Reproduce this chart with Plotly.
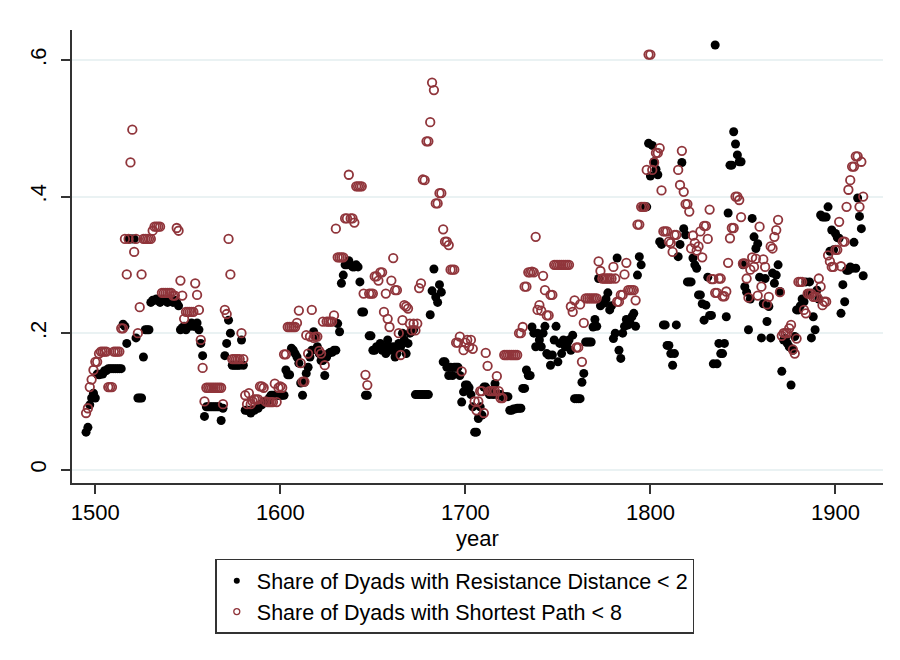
import plotly.graph_objects as go

years = list(range(1495, 1916))

# Share of Dyads with Resistance Distance < 2
resistance = [
    0.055, 0.062, 0.095, 0.105, 0.112,
    0.105, 0.14, 0.139, 0.14, 0.14, 0.145, 0.145, 0.148, 0.148, 0.148,
    0.148, 0.148, 0.148, 0.148, 0.148, 0.213, 0.21, 0.185, 0.338, 0.338,
    0.338, 0.338, 0.193, 0.105, 0.105, 0.105, 0.165, 0.205, 0.205, 0.205,
    0.245, 0.248, 0.248, 0.25, 0.248, 0.245, 0.248, 0.25, 0.248, 0.245,
    0.248, 0.25, 0.245, 0.248, 0.245, 0.24, 0.205, 0.208, 0.21, 0.205,
    0.21, 0.21, 0.215, 0.21, 0.21, 0.215, 0.205, 0.185, 0.167, 0.078,
    0.092, 0.092, 0.092, 0.092, 0.092, 0.092, 0.092, 0.092, 0.072, 0.09,
    0.167, 0.185, 0.219, 0.2, 0.153, 0.153, 0.153, 0.153, 0.153, 0.19,
    0.153, 0.087, 0.087, 0.087, 0.083, 0.087, 0.087, 0.09, 0.09, 0.095,
    0.095, 0.1, 0.1, 0.1, 0.105, 0.109, 0.109, 0.109, 0.109, 0.109,
    0.109, 0.109, 0.109, 0.146, 0.139, 0.139, 0.178, 0.175, 0.17, 0.165,
    0.156, 0.127, 0.109, 0.128, 0.141, 0.15, 0.165, 0.175, 0.202, 0.195,
    0.18, 0.17, 0.16, 0.16, 0.138, 0.165, 0.17, 0.172, 0.172, 0.175,
    0.175, 0.214, 0.202, 0.273, 0.285, 0.3, 0.3, 0.306, 0.3, 0.297,
    0.297, 0.3, 0.297, 0.275, 0.231, 0.231, 0.109, 0.109, 0.196, 0.196,
    0.175, 0.175, 0.18, 0.18, 0.185, 0.175, 0.18, 0.17, 0.19, 0.18,
    0.175, 0.18, 0.165, 0.17, 0.185, 0.18, 0.2, 0.19, 0.17, 0.185,
    0.2, 0.202, 0.205, 0.11, 0.11, 0.11, 0.11, 0.11, 0.11, 0.11,
    0.11, 0.227, 0.262, 0.294, 0.253, 0.245, 0.271, 0.26, 0.158, 0.158,
    0.15, 0.138, 0.15, 0.138, 0.15, 0.15, 0.15, 0.138, 0.099, 0.114,
    0.124, 0.124, 0.12, 0.11, 0.092, 0.055, 0.055, 0.075, 0.092, 0.08,
    0.121, 0.121, 0.115, 0.11, 0.115, 0.11, 0.126, 0.11, 0.11, 0.11,
    0.107, 0.107, 0.107, 0.107, 0.087, 0.087, 0.089, 0.089, 0.09, 0.09,
    0.09, 0.119, 0.119, 0.146, 0.138, 0.138, 0.209, 0.2, 0.18, 0.2,
    0.19, 0.18, 0.2, 0.21, 0.17, 0.168, 0.153, 0.168, 0.19, 0.21,
    0.158, 0.185, 0.17, 0.19, 0.18, 0.185, 0.19, 0.175, 0.197, 0.104,
    0.104, 0.104, 0.104, 0.128, 0.141, 0.187, 0.187, 0.187, 0.187, 0.209,
    0.22, 0.21, 0.28, 0.24, 0.244, 0.244, 0.25, 0.259, 0.234, 0.24,
    0.192, 0.2, 0.31, 0.175, 0.163, 0.2, 0.21, 0.22, 0.212, 0.215,
    0.224, 0.229, 0.21, 0.285, 0.312, 0.3, 0.385, 0.385, 0.385, 0.478,
    0.43, 0.475, 0.451, 0.44, 0.432, 0.334, 0.33, 0.212, 0.212, 0.182,
    0.182, 0.17, 0.153, 0.17, 0.212, 0.312, 0.33, 0.45, 0.353, 0.344,
    0.275, 0.275, 0.275, 0.31, 0.3, 0.295, 0.256, 0.256, 0.243, 0.219,
    0.241, 0.282, 0.226, 0.226, 0.155, 0.622, 0.155, 0.185, 0.17, 0.17,
    0.185, 0.224, 0.376, 0.446, 0.446, 0.495, 0.477, 0.461, 0.451, 0.451,
    0.3, 0.268, 0.26, 0.205, 0.25, 0.368, 0.341, 0.324, 0.331, 0.282,
    0.193, 0.243, 0.28, 0.217, 0.239, 0.193, 0.288, 0.273, 0.285, 0.3,
    0.261, 0.144, 0.19, 0.192, 0.185, 0.18, 0.124, 0.175, 0.195, 0.234,
    0.234, 0.24, 0.25, 0.246, 0.275, 0.258, 0.275, 0.193, 0.224, 0.205,
    0.263, 0.25, 0.373, 0.37, 0.37, 0.37, 0.385, 0.32, 0.351, 0.322,
    0.346, 0.34, 0.339, 0.229, 0.271, 0.246, 0.292, 0.292, 0.297, 0.295,
    0.333, 0.295, 0.398, 0.371, 0.353, 0.284,
]

# Share of Dyads with Shortest Path < 8
shortest = [
    0.083, 0.09, 0.121, 0.132, 0.146,
    0.158, 0.158, 0.17, 0.173, 0.173, 0.173, 0.173, 0.121, 0.121, 0.121,
    0.173, 0.173, 0.173, 0.173, 0.207, 0.207, 0.338, 0.286, 0.338, 0.45,
    0.498, 0.319, 0.338, 0.2, 0.238, 0.286, 0.338, 0.338, 0.338, 0.338,
    0.338, 0.35, 0.356, 0.356, 0.356, 0.356, 0.259, 0.259, 0.259, 0.259,
    0.259, 0.259, 0.255, 0.255, 0.354, 0.35, 0.277, 0.255, 0.221, 0.231,
    0.231, 0.231, 0.231, 0.231, 0.273, 0.256, 0.234, 0.19, 0.149, 0.1,
    0.12, 0.12, 0.12, 0.12, 0.12, 0.12, 0.12, 0.12, 0.12, 0.096,
    0.234, 0.228, 0.338, 0.286, 0.162, 0.162, 0.162, 0.162, 0.162, 0.2,
    0.162, 0.109, 0.096, 0.112, 0.096, 0.1, 0.103, 0.103, 0.103, 0.122,
    0.122, 0.12, 0.1, 0.099, 0.099, 0.099, 0.099, 0.126, 0.099, 0.12,
    0.122, 0.12, 0.169, 0.169, 0.209, 0.209, 0.209, 0.209, 0.209, 0.215,
    0.233, 0.156, 0.129, 0.129, 0.197, 0.17, 0.195, 0.234, 0.193, 0.195,
    0.195, 0.174, 0.17, 0.217, 0.153, 0.217, 0.217, 0.217, 0.217, 0.226,
    0.353, 0.311, 0.311, 0.311, 0.311, 0.368, 0.368, 0.432, 0.368, 0.368,
    0.362, 0.415, 0.415, 0.415, 0.415, 0.258, 0.139, 0.124, 0.258, 0.258,
    0.258, 0.283, 0.283, 0.277, 0.289, 0.289, 0.231, 0.258, 0.221, 0.209,
    0.277, 0.31, 0.263, 0.263, 0.2, 0.168, 0.219, 0.241, 0.239, 0.236,
    0.214, 0.204, 0.214, 0.204, 0.214, 0.266, 0.273, 0.425, 0.424, 0.481,
    0.481, 0.509, 0.567, 0.556, 0.39, 0.39, 0.405, 0.405, 0.352, 0.334,
    0.334, 0.329, 0.293, 0.293, 0.293, 0.186, 0.186, 0.195, 0.144, 0.175,
    0.186, 0.19, 0.18, 0.19, 0.177, 0.1, 0.087, 0.1, 0.115, 0.115,
    0.083, 0.171, 0.152, 0.115, 0.115, 0.115, 0.115, 0.137, 0.115, 0.105,
    0.105, 0.168, 0.168, 0.168, 0.168, 0.168, 0.168, 0.168, 0.168, 0.2,
    0.2, 0.209, 0.268, 0.268, 0.289, 0.289, 0.29, 0.289, 0.341, 0.234,
    0.241, 0.233, 0.284, 0.263, 0.226, 0.226, 0.256, 0.256, 0.3, 0.3,
    0.3, 0.3, 0.3, 0.3, 0.3, 0.3, 0.3, 0.239, 0.231, 0.248,
    0.179, 0.179, 0.242, 0.158, 0.215, 0.251, 0.251, 0.251, 0.251, 0.251,
    0.251, 0.251, 0.305, 0.291, 0.28, 0.28, 0.28, 0.28, 0.28, 0.28,
    0.297, 0.28, 0.246, 0.246, 0.256, 0.256, 0.286, 0.303, 0.263, 0.263,
    0.263, 0.263, 0.248, 0.359, 0.359, 0.385, 0.385, 0.385, 0.439, 0.608,
    0.608, 0.439, 0.45, 0.464, 0.464, 0.471, 0.409, 0.349, 0.349, 0.349,
    0.334, 0.332, 0.319, 0.344, 0.344, 0.439, 0.417, 0.467, 0.407, 0.389,
    0.389, 0.378, 0.324, 0.343, 0.332, 0.321, 0.327, 0.349, 0.311, 0.357,
    0.357, 0.338, 0.381, 0.279, 0.279, 0.259, 0.259, 0.28, 0.28, 0.254,
    0.254, 0.261, 0.303, 0.339, 0.354, 0.354, 0.4, 0.4, 0.395, 0.37,
    0.302, 0.302, 0.28, 0.252, 0.293, 0.311, 0.297, 0.309, 0.255, 0.356,
    0.268, 0.308, 0.297, 0.242, 0.253, 0.327, 0.324, 0.341, 0.351, 0.366,
    0.26, 0.196, 0.2, 0.2, 0.2, 0.207, 0.212, 0.176, 0.17, 0.192,
    0.275, 0.275, 0.275, 0.234, 0.229, 0.258, 0.258, 0.258, 0.253, 0.253,
    0.253, 0.28, 0.268, 0.241, 0.246, 0.246, 0.314, 0.305, 0.297, 0.297,
    0.322, 0.322, 0.363, 0.298, 0.334, 0.334, 0.385, 0.41, 0.424, 0.444,
    0.444, 0.459, 0.459, 0.385, 0.451, 0.4,
]

x_ticks = [1500, 1600, 1700, 1800, 1900]
y_ticks = [0, 0.2, 0.4, 0.6]
y_labels = ['0', '.2', '.4', '.6']

name_rd = 'Share of Dyads with Resistance Distance < 2'
name_sp = 'Share of Dyads with Shortest Path < 8'

FONT = 'Liberation Sans, Arial, sans-serif'
MAROON = '#90353b'

fig = go.Figure()

fig.add_trace(go.Scatter(
    x=years, y=resistance, mode='markers', name=name_rd, showlegend=False,
    marker=dict(symbol='circle', size=9, color='black', line=dict(width=0)),
))
fig.add_trace(go.Scatter(
    x=years, y=shortest, mode='markers', name=name_sp, showlegend=False,
    marker=dict(symbol='circle-open', size=8.5, color=MAROON,
                line=dict(width=1.8, color=MAROON)),
))

# legend entries with the smaller Stata-like key symbols
fig.add_trace(go.Scatter(
    x=[None], y=[None], mode='markers', name=name_rd,
    marker=dict(symbol='circle', size=6, color='black'),
))
fig.add_trace(go.Scatter(
    x=[None], y=[None], mode='markers', name=name_sp,
    marker=dict(symbol='circle-open', size=6, color=MAROON,
                line=dict(width=1.3, color=MAROON)),
))

# page body has an 8px margin, so the figure is shifted by 8px
fig.update_layout(
    width=900, height=660,
    paper_bgcolor='white', plot_bgcolor='white',
    font=dict(family=FONT, size=21, color='black'),
    margin=dict(l=64, r=25, t=22, b=185, autoexpand=False),
    showlegend=True,
    legend=dict(
        orientation='v', x=0.472, xanchor='center', y=-0.167, yanchor='top',
        bordercolor='#333333', borderwidth=1.5, bgcolor='white',
        font=dict(family=FONT, size=21.5), tracegroupgap=0,
        itemwidth=30,
    ),
    annotations=[dict(
        text='year', x=0.5, y=-0.123, xref='paper', yref='paper',
        xanchor='center', yanchor='middle', showarrow=False,
        font=dict(family=FONT, size=22),
    )],
)

fig.update_xaxes(
    range=[1487.4, 1925.7], tickvals=x_ticks, automargin=False,
    showline=True, linecolor='#333333', linewidth=1.5,
    ticks='outside', ticklen=9, tickcolor='#333333', tickwidth=1.5,
    ticklabelstandoff=0,
    showgrid=False, zeroline=False,
    tickfont=dict(size=22),
)

fig.update_yaxes(
    range=[-0.0195, 0.644], tickvals=y_ticks, ticktext=y_labels, automargin=False,
    showline=True, linecolor='#333333', linewidth=1.5,
    ticks='outside', ticklen=9, tickcolor='#333333', tickwidth=1.5,
    ticklabelstandoff=6,
    showgrid=True, gridcolor='#eaf2f3', gridwidth=1.5, zeroline=False,
    tickangle=-90, tickfont=dict(size=22),
)

fig.write_html("out.html")
